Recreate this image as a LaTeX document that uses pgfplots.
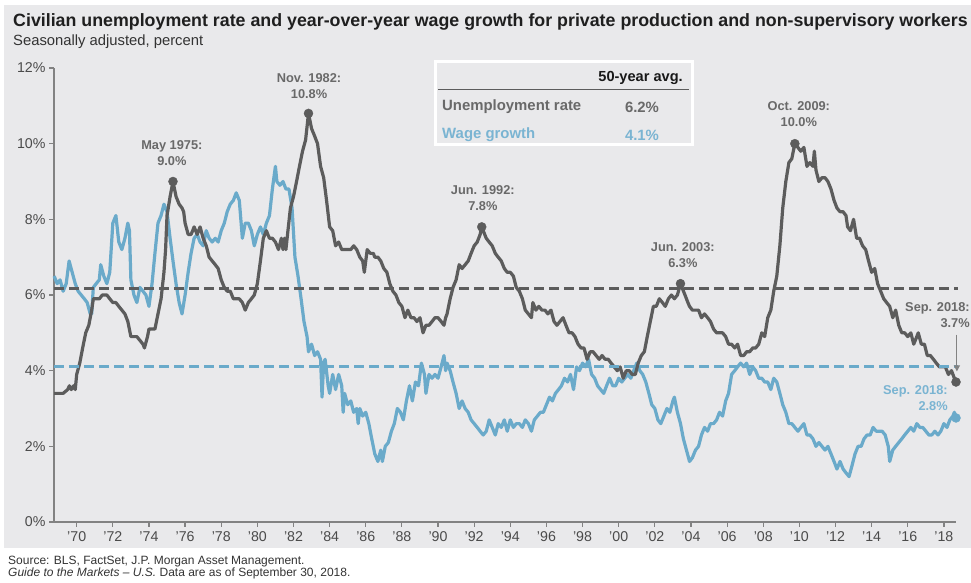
\documentclass[border=0pt]{standalone}
\usepackage{fontspec}
\setmainfont{Liberation Sans}
\usepackage{pgfplots}
\pgfplotsset{compat=1.18}
\usetikzlibrary{arrows.meta}
\definecolor{bgc}{RGB}{233,233,235}
\definecolor{ugray}{RGB}{92,92,92}
\definecolor{wblue}{RGB}{106,170,202}
\definecolor{agray}{RGB}{130,130,130}
\definecolor{tgray}{RGB}{105,105,105}
\definecolor{lblue}{RGB}{122,180,210}
\definecolor{ticktext}{RGB}{75,75,75}
\begin{document}
\begin{tikzpicture}[x=1pt,y=1pt]
\path[use as bounding box] (0,0) rectangle (971,583);
\fill[bgc] (4,35) rectangle (971,578);
\node[anchor=west, font=\fontsize{17.8}{20}\selectfont\bfseries, text=black!88, inner sep=0] at (13,561) {Civilian unemployment rate and year-over-year wage growth for private production and non-supervisory workers};
\node[anchor=west, font=\fontsize{14.8}{17}\selectfont, text=black!80, inner sep=0] at (13,541) {Seasonally adjusted, percent};
\node[anchor=west, font=\fontsize{12}{14}\selectfont, text=black!80, inner sep=0] at (8,21.5) {Source: BLS, FactSet, J.P. Morgan Asset Management.};
\node[anchor=west, font=\fontsize{12}{14}\selectfont, text=black!80, inner sep=0] at (8,9.5) {\textit{Guide to the Markets -- U.S.} Data are as of September 30, 2018.};
% legend box
\draw[white, line width=3pt, fill=bgc] (435,521) rectangle (692,438);
\draw[ugray, line width=1pt] (438,493) -- (689,493);
\node[anchor=east, font=\fontsize{14.6}{16}\selectfont\bfseries, text=black!90, inner sep=0] at (683,505) {50-year avg.};
\node[anchor=west, font=\fontsize{14.9}{16}\selectfont\bfseries, text=tgray, inner sep=0] at (442,476) {Unemployment rate};
\node[font=\fontsize{14.9}{16}\selectfont\bfseries, text=tgray, inner sep=0] at (642,476) {6.2\%};
\node[anchor=west, font=\fontsize{14.9}{16}\selectfont\bfseries, text=lblue, inner sep=0] at (442,448) {Wage growth};
\node[font=\fontsize{14.9}{16}\selectfont\bfseries, text=lblue, inner sep=0] at (642,448) {4.1\%};
\begin{axis}[
  at={(54pt,61pt)}, anchor=south west,
  scale only axis, width=902pt, height=454pt,
  xmin=1968.744, xmax=2018.67, ymin=0, ymax=12,
  clip=false,
  axis x line=bottom, axis y line=left,
  axis line style={draw=agray, line width=1.3pt, -},
  tick align=outside, major tick length=5pt,
  tick style={draw=agray, line width=1.2pt},
  xtick={1970,1972,...,2018},
  xticklabels={'70,'72,'74,'76,'78,'80,'82,'84,'86,'88,'90,'92,'94,'96,'98,'00,'02,'04,'06,'08,'10,'12,'14,'16,'18},
  ytick={0,2,4,6,8,10,12},
  yticklabels={0\%,2\%,4\%,6\%,8\%,10\%,12\%},
  ticklabel style={font=\fontsize{14.2}{16}\selectfont, text=ticktext},
  xticklabel style={yshift=-1pt},
]
% wage growth
\addplot[wblue, line width=3.2pt, line join=round] coordinates {
(1968.75,6.5) (1968.92,6.3) (1969.08,6.4) (1969.25,6.1) (1969.42,6.3) (1969.58,6.9) (1969.75,6.6) (1969.92,6.3)
(1970.08,6.1) (1970.25,6.0) (1970.42,5.9) (1970.58,5.8) (1970.75,5.5) (1970.83,5.5) (1970.92,6.2)
(1971.08,6.3) (1971.25,6.4) (1971.33,6.8) (1971.5,6.5) (1971.67,6.3) (1971.83,6.6)
(1972.0,7.9) (1972.17,8.1) (1972.33,7.4) (1972.5,7.2) (1972.67,7.5) (1972.83,7.9) (1972.92,7.7)
(1973.0,6.4) (1973.17,6.0) (1973.33,5.8) (1973.5,6.2) (1973.67,6.1) (1973.83,6.0)
(1974.0,5.7) (1974.17,6.3) (1974.33,7.1) (1974.5,7.9) (1974.67,8.1) (1974.83,8.4)
(1975.0,8.2) (1975.17,7.5) (1975.33,6.9) (1975.5,6.3) (1975.67,5.8) (1975.83,5.5)
(1976.0,6.0) (1976.17,6.6) (1976.33,7.1) (1976.5,7.5) (1976.67,7.6) (1976.83,7.4)
(1977.0,7.3) (1977.17,7.7) (1977.33,7.5) (1977.5,7.4) (1977.67,7.5) (1977.83,7.4)
(1978.0,7.7) (1978.17,7.9) (1978.33,8.2) (1978.5,8.4) (1978.67,8.5) (1978.83,8.7)
(1979.0,8.5) (1979.17,7.5) (1979.33,7.9) (1979.5,7.9) (1979.67,7.7) (1979.83,7.3)
(1980.0,7.6) (1980.17,7.8) (1980.33,7.6) (1980.5,7.9) (1980.67,8.1) (1980.83,8.8)
(1981.0,9.4) (1981.08,9.0) (1981.25,8.9) (1981.42,9.0) (1981.58,8.8) (1981.75,8.8) (1981.92,8.3)
(1982.08,7.0) (1982.25,6.5) (1982.42,5.9) (1982.58,5.3) (1982.75,4.9) (1982.83,4.5)
(1983.0,4.7) (1983.17,4.4) (1983.33,4.5) (1983.5,4.3) (1983.58,3.3) (1983.67,4.2) (1983.75,4.3) (1983.92,3.6)
(1984.0,3.4) (1984.17,3.9) (1984.33,3.5) (1984.5,3.9) (1984.67,3.6) (1984.75,2.9) (1984.83,3.4)
(1985.0,3.1) (1985.17,3.2) (1985.33,2.9) (1985.5,3.0) (1985.58,2.6) (1985.67,3.0) (1985.83,2.8)
(1986.0,2.9) (1986.17,2.6) (1986.33,2.2) (1986.5,1.8) (1986.67,1.6) (1986.83,1.9) (1986.92,1.6)
(1987.08,2.0) (1987.25,2.1) (1987.42,2.4) (1987.58,2.6) (1987.75,3.0) (1987.92,2.9)
(1988.08,2.7) (1988.25,3.2) (1988.42,3.6) (1988.58,3.2) (1988.75,3.7) (1988.92,3.6)
(1989.08,4.2) (1989.25,3.9) (1989.33,3.4) (1989.5,3.9) (1989.67,3.8) (1989.83,3.9)
(1990.0,3.8) (1990.17,4.1) (1990.33,4.4) (1990.42,4.0) (1990.5,4.2) (1990.67,4.0) (1990.83,3.7)
(1991.0,3.4) (1991.17,3.0) (1991.33,3.2) (1991.5,3.0) (1991.67,2.9) (1991.83,2.7)
(1992.0,2.6) (1992.17,2.5) (1992.33,2.4) (1992.5,2.3) (1992.67,2.4) (1992.83,2.7)
(1993.0,2.5) (1993.17,2.3) (1993.33,2.6) (1993.5,2.5) (1993.67,2.7) (1993.83,2.4)
(1994.0,2.7) (1994.17,2.5) (1994.33,2.6) (1994.5,2.6) (1994.67,2.5) (1994.83,2.7)
(1995.0,2.6) (1995.17,2.4) (1995.33,2.7) (1995.5,2.8) (1995.67,2.9) (1995.83,2.9)
(1996.0,3.1) (1996.17,3.3) (1996.33,3.2) (1996.5,3.4) (1996.67,3.5) (1996.83,3.6)
(1997.0,3.8) (1997.17,3.7) (1997.33,3.9) (1997.5,3.5) (1997.67,4.1) (1997.83,4.0)
(1998.0,4.2) (1998.17,4.1) (1998.33,4.3) (1998.5,3.9) (1998.67,3.8) (1998.83,3.6)
(1999.0,3.5) (1999.17,3.4) (1999.33,3.6) (1999.5,3.8) (1999.67,3.6) (1999.83,3.6)
(2000.0,3.8) (2000.17,3.7) (2000.33,3.8) (2000.5,3.9) (2000.67,3.8) (2000.83,4.0)
(2001.0,4.2) (2001.17,4.0) (2001.33,3.9) (2001.5,3.7) (2001.67,3.4) (2001.83,3.1)
(2002.0,3.0) (2002.17,2.7) (2002.33,2.6) (2002.5,2.8) (2002.67,3.0) (2002.83,2.9)
(2003.0,3.2) (2003.08,3.3) (2003.25,2.9) (2003.42,2.6) (2003.58,2.2) (2003.75,1.9) (2003.92,1.6)
(2004.08,1.7) (2004.25,1.9) (2004.42,2.0) (2004.58,2.3) (2004.75,2.5) (2004.92,2.4)
(2005.08,2.6) (2005.25,2.6) (2005.42,2.7) (2005.58,2.9) (2005.75,2.8) (2005.92,3.2)
(2006.08,3.4) (2006.25,3.9) (2006.42,4.0) (2006.58,4.1) (2006.75,4.2) (2006.92,4.1)
(2007.08,4.2) (2007.25,3.9) (2007.42,4.1) (2007.58,4.0) (2007.75,3.8) (2007.92,3.8)
(2008.08,3.7) (2008.25,3.7) (2008.42,3.5) (2008.58,3.8) (2008.75,3.7) (2008.92,3.4)
(2009.08,3.1) (2009.25,2.9) (2009.42,2.6) (2009.58,2.6) (2009.75,2.5) (2009.92,2.4)
(2010.08,2.5) (2010.25,2.6) (2010.42,2.3) (2010.58,2.3) (2010.75,2.2) (2010.92,2.0)
(2011.08,2.1) (2011.25,2.0) (2011.42,1.9) (2011.58,2.0) (2011.75,1.8) (2011.92,1.6)
(2012.08,1.4) (2012.25,1.6) (2012.42,1.4) (2012.58,1.3) (2012.75,1.2) (2012.92,1.5)
(2013.08,1.8) (2013.25,2.0) (2013.42,2.0) (2013.58,2.2) (2013.75,2.3) (2013.92,2.3)
(2014.08,2.5) (2014.25,2.4) (2014.42,2.4) (2014.58,2.4) (2014.75,2.3) (2014.92,2.0)
(2015.0,1.6) (2015.17,1.9) (2015.33,2.0) (2015.5,2.1) (2015.67,2.2) (2015.83,2.3)
(2016.0,2.4) (2016.17,2.5) (2016.33,2.4) (2016.5,2.6) (2016.67,2.5) (2016.83,2.5)
(2017.0,2.4) (2017.17,2.3) (2017.33,2.3) (2017.5,2.4) (2017.67,2.3) (2017.83,2.4)
(2018.0,2.6) (2018.17,2.5) (2018.33,2.7) (2018.5,2.8) (2018.58,2.9) (2018.67,2.75)
};
% unemployment
\addplot[ugray, line width=3.2pt, line join=round] coordinates {
(1968.75,3.4) (1969.0,3.4) (1969.25,3.4) (1969.5,3.5) (1969.6,3.6) (1969.7,3.5) (1969.83,3.6) (1969.92,3.5)
(1970.0,3.9) (1970.17,4.2) (1970.33,4.6) (1970.5,5.0) (1970.67,5.2) (1970.83,5.6) (1970.92,5.9)
(1971.08,5.9) (1971.25,5.9) (1971.42,6.0) (1971.5,6.0) (1971.67,6.0) (1971.83,5.9)
(1972.0,5.8) (1972.17,5.8) (1972.33,5.7) (1972.5,5.6) (1972.67,5.5) (1972.83,5.3)
(1973.0,4.9) (1973.17,4.9) (1973.33,4.9) (1973.5,4.8) (1973.67,4.7) (1973.75,4.6) (1973.92,4.9)
(1974.0,5.1) (1974.17,5.1) (1974.33,5.1) (1974.5,5.5) (1974.67,5.9) (1974.83,6.6) (1974.92,7.2)
(1975.0,8.1) (1975.17,8.6) (1975.33,9.0) (1975.5,8.6) (1975.67,8.4) (1975.83,8.3) (1975.92,8.2)
(1976.0,7.9) (1976.17,7.6) (1976.33,7.6) (1976.42,7.7) (1976.5,7.8) (1976.67,7.6) (1976.83,7.8)
(1977.0,7.5) (1977.17,7.3) (1977.33,7.0) (1977.5,6.9) (1977.67,6.8) (1977.83,6.7)
(1978.0,6.4) (1978.17,6.2) (1978.33,6.1) (1978.5,6.1) (1978.67,5.9) (1978.83,5.9)
(1979.0,5.9) (1979.17,5.8) (1979.33,5.6) (1979.5,5.8) (1979.67,5.9) (1979.83,6.0)
(1980.0,6.3) (1980.17,6.9) (1980.33,7.5) (1980.5,7.7) (1980.58,7.6) (1980.67,7.5) (1980.83,7.5)
(1981.0,7.4) (1981.17,7.2) (1981.33,7.5) (1981.42,7.2) (1981.5,7.5) (1981.58,7.2) (1981.67,7.6) (1981.83,8.3)
(1982.0,8.6) (1982.17,9.0) (1982.33,9.4) (1982.5,9.8) (1982.67,10.1) (1982.83,10.8)
(1983.0,10.4) (1983.17,10.2) (1983.33,10.0) (1983.5,9.4) (1983.67,9.1) (1983.83,8.5)
(1984.0,7.8) (1984.17,7.7) (1984.33,7.3) (1984.5,7.4) (1984.67,7.2) (1984.83,7.2)
(1985.0,7.2) (1985.17,7.2) (1985.33,7.3) (1985.5,7.2) (1985.67,7.0) (1985.83,6.9) (1985.92,6.6)
(1986.08,7.2) (1986.25,7.1) (1986.42,7.1) (1986.5,7.0) (1986.67,7.0) (1986.83,6.9)
(1987.0,6.7) (1987.17,6.6) (1987.33,6.3) (1987.5,6.1) (1987.67,6.0) (1987.83,5.8)
(1988.0,5.7) (1988.17,5.4) (1988.33,5.6) (1988.5,5.4) (1988.67,5.4) (1988.83,5.3)
(1989.0,5.4) (1989.17,5.0) (1989.33,5.2) (1989.5,5.2) (1989.67,5.3) (1989.83,5.4)
(1990.0,5.4) (1990.17,5.3) (1990.33,5.2) (1990.42,5.4) (1990.5,5.5) (1990.67,5.9) (1990.83,6.2)
(1991.0,6.4) (1991.17,6.8) (1991.33,6.7) (1991.5,6.8) (1991.67,6.9) (1991.83,7.1)
(1992.0,7.3) (1992.17,7.4) (1992.33,7.6) (1992.42,7.8) (1992.5,7.7) (1992.67,7.5) (1992.83,7.4)
(1993.0,7.3) (1993.17,7.1) (1993.33,7.0) (1993.5,6.9) (1993.67,6.7) (1993.83,6.6)
(1994.0,6.6) (1994.17,6.5) (1994.33,6.2) (1994.5,6.1) (1994.67,5.9) (1994.83,5.6)
(1995.0,5.5) (1995.17,5.4) (1995.25,5.8) (1995.42,5.6) (1995.58,5.7) (1995.75,5.6) (1995.92,5.6)
(1996.08,5.5) (1996.25,5.6) (1996.42,5.3) (1996.58,5.2) (1996.75,5.3) (1996.92,5.4)
(1997.08,5.2) (1997.25,5.0) (1997.42,5.0) (1997.58,4.9) (1997.75,4.7) (1997.92,4.6)
(1998.08,4.6) (1998.25,4.3) (1998.42,4.5) (1998.58,4.5) (1998.75,4.4) (1998.92,4.3)
(1999.08,4.4) (1999.25,4.3) (1999.42,4.3) (1999.58,4.2) (1999.75,4.1) (1999.92,4.0)
(2000.08,4.1) (2000.25,3.8) (2000.42,4.0) (2000.58,4.0) (2000.75,3.9) (2000.92,3.9)
(2001.08,4.2) (2001.25,4.4) (2001.42,4.5) (2001.58,4.9) (2001.75,5.3) (2001.92,5.7)
(2002.08,5.7) (2002.25,5.9) (2002.42,5.8) (2002.58,5.7) (2002.75,5.9) (2002.92,6.0)
(2003.08,5.9) (2003.25,6.0) (2003.42,6.3) (2003.5,6.2) (2003.67,6.0) (2003.83,5.8) (2003.92,5.7)
(2004.08,5.6) (2004.25,5.6) (2004.42,5.6) (2004.58,5.4) (2004.75,5.5) (2004.92,5.4)
(2005.08,5.3) (2005.25,5.1) (2005.42,5.0) (2005.58,5.0) (2005.75,5.0) (2005.92,4.9)
(2006.08,4.7) (2006.25,4.7) (2006.42,4.6) (2006.58,4.7) (2006.75,4.4) (2006.92,4.4)
(2007.08,4.5) (2007.25,4.5) (2007.42,4.6) (2007.58,4.6) (2007.75,4.7) (2007.92,5.0)
(2008.08,4.9) (2008.25,5.4) (2008.42,5.6) (2008.58,6.1) (2008.75,6.5) (2008.92,7.3)
(2009.08,8.3) (2009.25,9.0) (2009.42,9.5) (2009.58,9.6) (2009.75,10.0) (2009.92,9.9)
(2010.08,9.8) (2010.25,9.9) (2010.42,9.4) (2010.58,9.5) (2010.75,9.4) (2010.83,9.8) (2010.92,9.3)
(2011.08,9.0) (2011.25,9.1) (2011.42,9.1) (2011.58,9.0) (2011.75,8.8) (2011.92,8.5)
(2012.08,8.3) (2012.25,8.2) (2012.42,8.2) (2012.58,8.1) (2012.67,7.8) (2012.83,7.7)
(2013.0,8.0) (2013.17,7.5) (2013.33,7.5) (2013.5,7.3) (2013.67,7.2) (2013.83,6.9)
(2014.0,6.6) (2014.17,6.7) (2014.33,6.3) (2014.5,6.1) (2014.67,5.9) (2014.83,5.8)
(2015.0,5.7) (2015.17,5.4) (2015.33,5.6) (2015.5,5.2) (2015.67,5.0) (2015.83,5.0)
(2016.0,4.9) (2016.17,5.0) (2016.33,4.7) (2016.5,4.9) (2016.58,5.0) (2016.75,4.7) (2016.92,4.7)
(2017.08,4.4) (2017.25,4.4) (2017.42,4.3) (2017.58,4.2) (2017.75,4.1) (2017.92,4.1)
(2018.08,4.1) (2018.25,3.9) (2018.42,4.0) (2018.58,3.8) (2018.67,3.7)
};
% averages
\addplot[ugray, line width=3pt, dash pattern=on 10pt off 5pt] coordinates {(1968.744,6.17) (2018.8,6.17)};
\addplot[wblue, line width=3pt, dash pattern=on 10pt off 5pt] coordinates {(1968.744,4.1) (2018.8,4.1)};
% markers
\addplot[only marks, mark=*, mark size=4.5pt, color=ugray] coordinates {(1975.33,9.0) (1982.83,10.8) (1992.42,7.8) (2003.42,6.3) (2009.75,10.0) (2018.67,3.7)};
\addplot[only marks, mark=*, mark size=4.5pt, color=wblue] coordinates {(2018.67,2.75)};
% arrow
\draw[agray, line width=1pt, -{Triangle[width=6pt,length=6pt]}] (axis cs:2018.72,4.95) -- (axis cs:2018.72,3.98);
% annotations
\tikzset{ann/.style={font=\fontsize{12.8}{16}\selectfont\bfseries, text=tgray, align=center, inner sep=0}}
\node[ann] at (axis cs:1975.27,9.74) {May 1975:\\9.0\%};
\node[ann] at (axis cs:1982.86,11.51) {Nov. 1982:\\10.8\%};
\node[ann] at (axis cs:1992.48,8.57) {Jun. 1992:\\7.8\%};
\node[ann] at (axis cs:2003.55,7.06) {Jun. 2003:\\6.3\%};
\node[ann] at (axis cs:2009.97,10.78) {Oct. 2009:\\10.0\%};
\node[ann, align=right, anchor=east] at (axis cs:2019.44,5.46) {Sep. 2018:\\3.7\%};
\node[ann, text=lblue, align=right, anchor=east] at (axis cs:2018.22,3.28) {Sep. 2018:\\2.8\%};
\end{axis}
\end{tikzpicture}
\end{document}
